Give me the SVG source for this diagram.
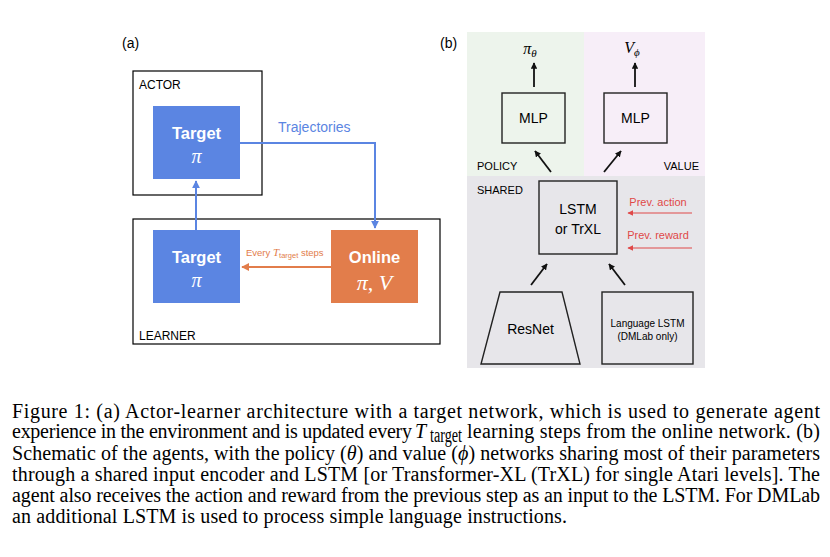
<svg xmlns="http://www.w3.org/2000/svg" width="830" height="557" viewBox="0 0 830 557">
<style>
.sans{font-family:"Liberation Sans",Arial,sans-serif;}
.serif{font-family:"Liberation Serif","Times New Roman",serif;}
.lbl{font-family:"Liberation Sans",Arial,sans-serif;font-size:12px;fill:#000;}
.frame{fill:none;stroke:#000;stroke-width:1.2;}
.box{fill:none;stroke:#222;stroke-width:1.4;}
.blue{fill:#5b85e2;}
.orange{fill:#e27d4b;}
.wt{fill:#fff;}
.blk{stroke:#111;stroke-width:1.8;fill:none;}
.cap{font-family:"Liberation Serif","Times New Roman",serif;font-size:20px;fill:#000;}
</style>
<defs>
<marker id="ab" viewBox="0 0 10 10" refX="9" refY="5" markerWidth="4" markerHeight="4" orient="auto" markerUnits="strokeWidth"><path d="M0,0 L10,5 L0,10 z" fill="#5b85e2"/></marker>
<marker id="ao" viewBox="0 0 10 10" refX="9" refY="5" markerWidth="4" markerHeight="4" orient="auto" markerUnits="strokeWidth"><path d="M0,0 L10,5 L0,10 z" fill="#e27d4b"/></marker>
<marker id="ak" viewBox="0 0 10 10" refX="9" refY="5" markerWidth="3.5" markerHeight="3.5" orient="auto" markerUnits="strokeWidth"><path d="M0,0 L10,5 L0,10 z" fill="#111"/></marker>
<marker id="ar" viewBox="0 0 10 10" refX="9" refY="5" markerWidth="5" markerHeight="5" orient="auto" markerUnits="strokeWidth"><path d="M0,0 L10,5 L0,10 z" fill="#e04848"/></marker>
</defs>
<rect width="830" height="557" fill="#fff"/>

<!-- Panel (a) -->
<text class="sans" x="122" y="48" font-size="14">(a)</text>
<g id="actor">
<rect class="frame" x="133" y="71" width="129" height="124"/>
<text class="lbl" x="139" y="89">ACTOR</text>
</g>
<g id="learner">
<rect class="frame" x="133" y="219" width="307" height="125"/>
<text class="lbl" x="139" y="340">LEARNER</text>
</g>
<g id="target-actor">
<rect class="blue" x="153" y="106" width="87" height="73"/>
<text class="sans wt" x="196.5" y="139" font-size="16.5" font-weight="bold" text-anchor="middle">Target</text>
<text class="serif wt" x="196.5" y="163" font-size="20" font-style="italic" text-anchor="middle">π</text>
</g>
<g id="target-learner">
<rect class="blue" x="153" y="230" width="87" height="73"/>
<text class="sans wt" x="196.5" y="263" font-size="16.5" font-weight="bold" text-anchor="middle">Target</text>
<text class="serif wt" x="196.5" y="287" font-size="20" font-style="italic" text-anchor="middle">π</text>
</g>
<g id="online">
<rect class="orange" x="331" y="230" width="87" height="73"/>
<text class="sans wt" x="374.5" y="263" font-size="16.5" font-weight="bold" text-anchor="middle">Online</text>
<text class="serif wt" x="374.5" y="290" font-size="22" text-anchor="middle"><tspan font-style="italic">π</tspan>, <tspan font-style="italic">V</tspan></text>
</g>

<!-- Panel (b) backgrounds -->
<rect x="467" y="32" width="117" height="144" fill="#edf4ec"/>
<rect x="584" y="32" width="121" height="144" fill="#f7eef8"/>
<rect x="467" y="176" width="238" height="192" fill="#e7e6ea"/>
<text class="sans" x="440" y="48" font-size="14">(b)</text>

<g id="mlp-policy">
<rect class="box" x="502" y="93" width="63" height="50"/>
<text class="sans" x="533.5" y="123" font-size="14" text-anchor="middle">MLP</text>
</g>
<g id="mlp-value">
<rect class="box" x="604" y="93" width="63" height="50"/>
<text class="sans" x="635.5" y="123" font-size="14" text-anchor="middle">MLP</text>
</g>
<g id="pi-theta"><text class="serif" x="530" y="54" font-size="16" font-style="italic" text-anchor="middle">π<tspan font-size="11" dy="3">θ</tspan></text></g>
<g id="v-phi"><text class="serif" x="632" y="53" font-size="16" font-style="italic" text-anchor="middle">V<tspan font-size="11" dy="3">ϕ</tspan></text></g>
<text class="sans" x="477" y="170" font-size="11">POLICY</text>
<text class="sans" x="699" y="170" font-size="11" text-anchor="end">VALUE</text>
<text class="sans" x="477" y="194" font-size="11">SHARED</text>

<g id="lstm">
<rect class="box" x="539" y="181" width="78" height="73"/>
<text class="sans" x="578" y="214" font-size="14" text-anchor="middle">LSTM</text>
<text class="sans" x="578" y="234" font-size="14" text-anchor="middle">or TrXL</text>
</g>
<g id="resnet">
<path class="box" d="M500,292 L562,292 L580,364 L481,364 Z"/>
<text class="sans" x="530.5" y="334" font-size="14" text-anchor="middle">ResNet</text>
</g>
<g id="language-lstm">
<rect class="box" x="602" y="292" width="91" height="72"/>
<text class="sans" x="647.5" y="327" font-size="10" text-anchor="middle">Language LSTM</text>
<text class="sans" x="647.5" y="340" font-size="10" text-anchor="middle">(DMLab only)</text>
</g>
<text class="sans" x="658" y="206" font-size="11" fill="#e04848" text-anchor="middle">Prev. action</text>
<text class="sans" x="658" y="239" font-size="11" fill="#e04848" text-anchor="middle">Prev. reward</text>

<g id="connectors">
<path d="M240,143 H375 V228" fill="none" stroke="#5b85e2" stroke-width="2" marker-end="url(#ab)"/>
<text class="sans" x="278" y="132" font-size="14" fill="#5b85e2">Trajectories</text>
<path d="M196,230 V181" fill="none" stroke="#5b85e2" stroke-width="2" marker-end="url(#ab)"/>
<path d="M331,267 H242" fill="none" stroke="#e27d4b" stroke-width="2" marker-end="url(#ao)"/>
<text class="sans" x="246" y="256" font-size="9.5" fill="#e27d4b">Every <tspan class="serif" font-style="italic" font-size="11">T</tspan><tspan font-size="7.5" dy="2">target</tspan><tspan dy="-2"> steps</tspan></text>
<path class="blk" d="M534,87 V63" marker-end="url(#ak)"/>
<path class="blk" d="M635,87 V63" marker-end="url(#ak)"/>
<path class="blk" d="M551,172 L535,151" marker-end="url(#ak)"/>
<path class="blk" d="M604,172 L621,151" marker-end="url(#ak)"/>
<path class="blk" d="M531,285 L547,264" marker-end="url(#ak)"/>
<path class="blk" d="M625,285 L609,264" marker-end="url(#ak)"/>
<path d="M692,213 H628" fill="none" stroke="#e04848" stroke-width="1.2" marker-end="url(#ar)"/>
<path d="M692,248 H628" fill="none" stroke="#e04848" stroke-width="1.2" marker-end="url(#ar)"/>
</g>

<!-- Caption -->
<text class="cap" x="12" y="418" textLength="808" lengthAdjust="spacing">Figure 1: (a) Actor-learner architecture with a target network, which is used to generate agent</text>
<text class="cap" x="12" y="438" textLength="400" lengthAdjust="spacing">experience in the environment and is updated every</text>
<text class="cap" x="415" y="438" font-style="italic">T</text>
<text class="cap" x="430" y="442" font-size="13" textLength="32" lengthAdjust="spacingAndGlyphs">target</text>
<text class="cap" x="467" y="438" textLength="353" lengthAdjust="spacing">learning steps from the online network. (b)</text>
<text class="cap" x="12" y="459.5" textLength="808" lengthAdjust="spacing">Schematic of the agents, with the policy (<tspan font-style="italic">θ</tspan>) and value (<tspan font-style="italic">ϕ</tspan>) networks sharing most of their parameters</text>
<text class="cap" x="12" y="480.5" textLength="808" lengthAdjust="spacing">through a shared input encoder and LSTM [or Transformer-XL (TrXL) for single Atari levels]. The</text>
<text class="cap" x="12" y="502" textLength="808" lengthAdjust="spacing">agent also receives the action and reward from the previous step as an input to the LSTM. For DMLab</text>
<text class="cap" x="12" y="523" textLength="555" lengthAdjust="spacing">an additional LSTM is used to process simple language instructions.</text>
</svg>
